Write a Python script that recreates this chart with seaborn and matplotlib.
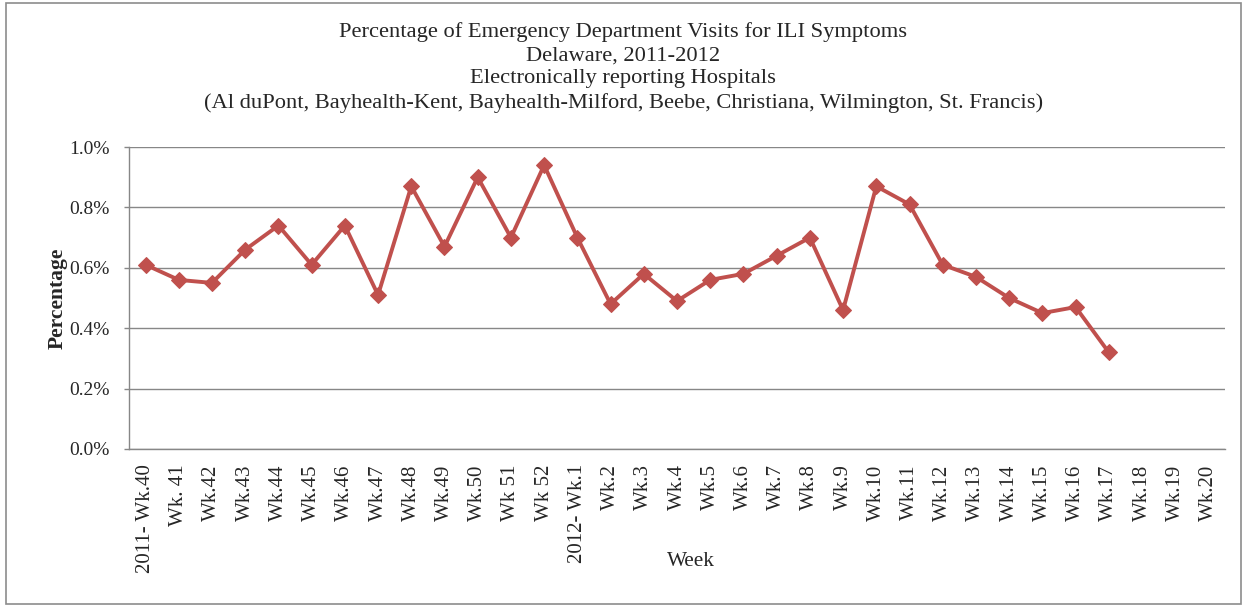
import matplotlib
matplotlib.use('Agg')
import matplotlib.pyplot as plt
import numpy as np
import pandas as pd
import seaborn as sns

# week labels and percentages (weeks 18-20 have no data yet)
weeks = ['2011- Wk.40', 'Wk. 41', 'Wk.42', 'Wk.43', 'Wk.44', 'Wk.45', 'Wk.46', 'Wk.47',
         'Wk.48', 'Wk.49', 'Wk.50', 'Wk 51', 'Wk 52', '2012- Wk.1', 'Wk.2', 'Wk.3', 'Wk.4',
         'Wk.5', 'Wk.6', 'Wk.7', 'Wk.8', 'Wk.9', 'Wk.10', 'Wk.11', 'Wk.12', 'Wk.13',
         'Wk.14', 'Wk.15', 'Wk.16', 'Wk.17', 'Wk.18', 'Wk.19', 'Wk.20']
pct = [0.61, 0.56, 0.55, 0.66, 0.74, 0.61, 0.74, 0.51, 0.87, 0.67, 0.90, 0.70, 0.94,
       0.70, 0.48, 0.58, 0.49, 0.56, 0.58, 0.64, 0.70, 0.46, 0.87, 0.81, 0.61, 0.57,
       0.50, 0.45, 0.47, 0.32, np.nan, np.nan, np.nan]
yticks = [0.0, 0.2, 0.4, 0.6, 0.8, 1.0]

title = ('Percentage of Emergency Department Visits for ILI Symptoms\n'
         'Delaware, 2011-2012\n'
         'Electronically reporting Hospitals\n'
         '(Al duPont, Bayhealth-Kent, Bayhealth-Milford, Beebe, Christiana, Wilmington, St. Francis)')

df = pd.DataFrame({'pos': np.arange(len(weeks)), 'pct': pct})
df = df.dropna()

sns.set_style('white')
plt.rcParams['font.family'] = ['Liberation Serif', 'DejaVu Serif']

fig = plt.figure(figsize=(12.47, 6.07), dpi=100)
ax = fig.add_axes([0.1034, 0.2603, 0.8790, 0.4975])

sns.lineplot(data=df, x='pos', y='pct', ax=ax, color='#C0504D', linewidth=2.8,
             marker='D', markersize=8.5, markeredgecolor='#C0504D')

ax.set_xlim(-0.5, len(weeks) - 0.5)
ax.set_ylim(0, 1.0)
ax.set_yticks(yticks)
ax.set_yticklabels([f'{v:.1f}%' for v in yticks], fontsize=14)
ax.yaxis.grid(True, color='#878787', linewidth=1.0)
ax.set_axisbelow(True)

ax.set_xticks(np.arange(len(weeks)))
ax.set_xticklabels(weeks, rotation=90, fontsize=15)
ax.set_xticks(np.arange(len(weeks) + 1) - 0.5, minor=True)
ax.tick_params(axis='x', which='major', length=0, pad=11)
ax.tick_params(axis='x', which='minor', length=3.6, color='#878787', width=1.0)
ax.tick_params(axis='y', length=3.6, color='#878787', width=1.0, left=True, pad=10)

for s in ['top', 'right']:
    ax.spines[s].set_visible(False)
for s in ['left', 'bottom']:
    ax.spines[s].set_color('#878787')
    ax.spines[s].set_linewidth(1.0)

ax.set_xlabel('Week', fontsize=15.3)
ax.xaxis.set_label_coords(0.513, -0.34)
ax.set_ylabel('Percentage', fontsize=15.5, fontweight='bold')
ax.yaxis.set_label_coords(-0.056, 0.5)

fig.text(0.5, 0.963, title, ha='center', va='top', fontsize=16.2, linespacing=1.29)

# outer chart border
fig.patches.append(plt.Rectangle((0.005, 0.005), 0.99, 0.99, transform=fig.transFigure,
                                 fill=False, edgecolor='#8c8c8c', linewidth=1.2))

fig.savefig('out.png', dpi=100)
